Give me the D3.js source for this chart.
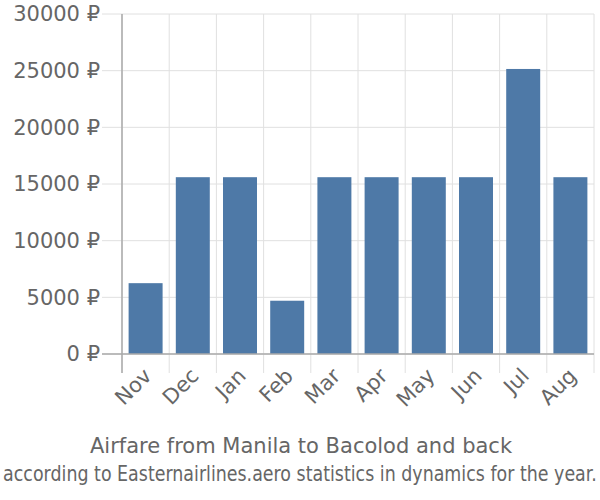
<!DOCTYPE html>
<html><head><meta charset="utf-8">
<script src="https://cdn.jsdelivr.net/npm/d3@7"></script>
<style>body{margin:0;background:#fff;}svg{display:block;font-family:"DejaVu Sans",sans-serif;}</style>
</head><body><svg id="c" width="600" height="500"></svg>
<script>
const months = ["Nov","Dec","Jan","Feb","Mar","Apr","May","Jun","Jul","Aug"];
const prices = [6250,15600,15600,4700,15600,15600,15600,15600,25150,15600];
const yTicks = [0,5000,10000,15000,20000,25000,30000];
const title = "Airfare from Manila to Bacolod and back";
const subtitle = "according to Easternairlines.aero statistics in dynamics for the year.";

const svg = d3.select("#c");
const L = 122, R = 594, T = 14, B = 354;
const x = d3.scaleBand().domain(months).range([L, R]).paddingInner(0.28).paddingOuter(0.14);
const y = d3.scaleLinear().domain([0, 30000]).range([B, T]);
const step = x.step();
const grid = "#e0e0e0", txt = "#666";

svg.append("g").selectAll("line").data(yTicks).join("line")
  .attr("x1", 102).attr("x2", R).attr("y1", d => y(d)).attr("y2", d => y(d))
  .attr("stroke", grid).attr("stroke-width", 1);
const vx = months.map((m, i) => L + i * step).concat([R]);
svg.append("g").selectAll("line").data(vx).join("line")
  .attr("x1", d => d).attr("x2", d => d).attr("y1", T).attr("y2", 373)
  .attr("stroke", grid).attr("stroke-width", 1);

svg.append("g").selectAll("rect").data(prices).join("rect")
  .attr("x", (d, i) => x(months[i])).attr("width", x.bandwidth())
  .attr("y", d => y(d)).attr("height", d => B - y(d))
  .attr("fill", "#4e79a7");

svg.append("line").attr("x1", L).attr("x2", L).attr("y1", T).attr("y2", 373).attr("stroke", "#aaa").attr("stroke-width", 1.5);
svg.append("line").attr("x1", 102).attr("x2", R).attr("y1", B).attr("y2", B).attr("stroke", "#aaa").attr("stroke-width", 1.5);

svg.append("g").selectAll("text").data(yTicks).join("text")
  .attr("x", 100).attr("y", d => y(d)).attr("dy", "0.35em")
  .attr("text-anchor", "end").attr("fill", txt).attr("font-size", 21)
  .text(d => d + " ₽");

svg.append("g").selectAll("text").data(months).join("text")
  .attr("transform", m => `translate(${x(m) + x.bandwidth()/2 + 2},${B + 18}) rotate(-45)`)
  .attr("text-anchor", "end").attr("dy", "0.35em").attr("fill", txt).attr("font-size", 21)
  .text(m => m);

svg.append("text").attr("x", 301).attr("y", 453).attr("text-anchor", "middle")
  .attr("fill", txt).attr("font-size", 21).text(title);
const sub = svg.append("text").attr("x", 0).attr("y", 0).attr("text-anchor", "middle")
  .attr("fill", txt).attr("font-size", 21).text(subtitle);
const natural = sub.node().getComputedTextLength();
const sx = 594 / natural;
sub.attr("transform", `translate(300,481) scale(${sx},1)`);
</script></body></html>
